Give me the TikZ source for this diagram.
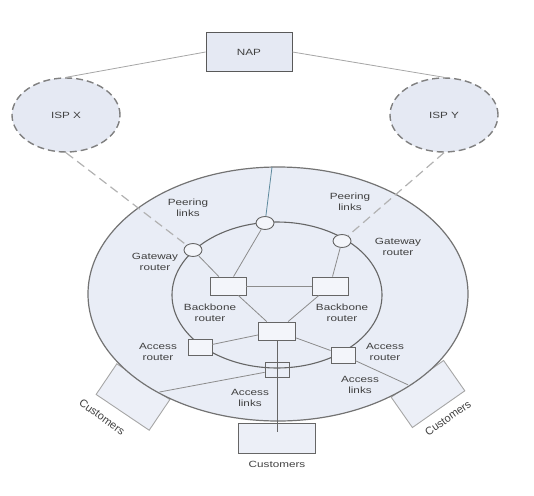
\documentclass[tikz,border=0pt]{standalone}
\usepackage{fontspec}
\setmainfont{Liberation Sans}
\usetikzlibrary{shapes.geometric}
\definecolor{bgfill}{HTML}{E9EDF6}
\definecolor{ispfill}{HTML}{E5E9F3}
\definecolor{boxfill}{HTML}{F3F5FA}
\definecolor{custfill}{HTML}{ECEFF7}
\definecolor{teal}{HTML}{5E8A9E}
\begin{document}
\begin{tikzpicture}[x=1pt,y=-1pt,
  lbl/.style={font=\fontsize{9}{10.5}\selectfont, text=black!75, align=center, inner sep=0pt},
  rlbl/.style={font=\fontsize{11}{12}\selectfont, text=black!75, inner sep=0pt},
  wide/.style={xscale=1.3},
  box/.style={draw=black!60, fill=boxfill, line width=0.9pt, inner sep=0pt},
  gwnode/.style={ellipse, draw=black!60, fill=boxfill, line width=0.9pt, minimum width=18pt, minimum height=13pt, inner sep=0pt},
  isp/.style={ellipse, draw=black!50, fill=ispfill, line width=1.4pt, dash pattern=on 7pt off 4pt, minimum width=108pt, minimum height=74pt, inner sep=0pt},
  link/.style={draw=black!45, line width=0.8pt},
  dlink/.style={draw=black!30, line width=1.2pt, dash pattern=on 9pt off 5pt},
  cust/.style={draw=black!35, fill=custfill, line width=0.9pt, minimum width=64pt, minimum height=37pt, inner sep=0pt}
]
\useasboundingbox (0,0) rectangle (534,495);

% customers boxes (behind the outer area)
\node[cust, rotate=-34] (custl) at (133,397) {};
\node[cust, rotate=35] (custr) at (428,394) {};

% outer area and ring
\node[ellipse, draw=black!55, fill=bgfill, line width=1.2pt, minimum width=380pt, minimum height=254pt, inner sep=0pt] (outer) at (278,294) {};
\node[ellipse, draw=black!60, line width=1.1pt, minimum width=210pt, minimum height=146pt, inner sep=0pt] (ring) at (277,295) {};

\node[box, draw=black!60, fill=custfill, minimum width=77pt, minimum height=30pt] (custb) at (277,438) {};

% NAP and ISPs
\node[box, draw=black!65, fill=ispfill, minimum width=86pt, minimum height=39pt] (nap) at (249,52) {};
\node[isp] (ispx) at (66,115) {};
\node[isp] (ispy) at (444,115) {};

% routers
\node[gwnode] (gwt) at (265,223) {};
\node[gwnode] (gwl) at (193,250) {};
\node[gwnode] (gwr) at (342,241) {};
\node[box, minimum width=36pt, minimum height=18pt] (bbl) at (228,286) {};
\node[box, minimum width=36pt, minimum height=18pt] (bbr) at (330,286) {};
\node[box, minimum width=37pt, minimum height=18pt] (ctr) at (277,331) {};
\node[box, minimum width=24pt, minimum height=16pt] (arl) at (200,347) {};
\node[box, minimum width=24pt, minimum height=16pt] (arr) at (343,355) {};
\node[box, minimum width=24pt, minimum height=15pt, fill=none] (arb) at (277,370) {};

\coordinate (ptop) at (272,167);
\coordinate (cbin) at (277,432);

% connectors
\draw[link, draw=black!35] (nap.west) -- (ispx.north);
\draw[link, draw=black!35] (nap.east) -- (ispy.north);
\draw[dlink] (ispx.south) -- (gwl);
\draw[dlink] (ispy.south) -- (gwr);
\draw[link, draw=teal] (ptop) -- (gwt);
\draw[link] (gwt) -- (bbl);
\draw[link] (gwl) -- (bbl);
\draw[link] (gwr) -- (bbr);
\draw[link] (bbl) -- (bbr);
\draw[link] (bbl) -- (ctr);
\draw[link] (bbr) -- (ctr);
\draw[link] (ctr) -- (arl);
\draw[link] (ctr) -- (arr);
\draw[link] (arr) -- (custr);
\draw[link] (arb) -- (custl);
\draw[link, draw=black!60] (ctr.south) -- (cbin);

% labels
\node[lbl, wide] (tnap) at (249,52) {NAP};
\node[lbl, wide] (tispx) at (66,115) {ISP X};
\node[lbl, wide] (tispy) at (444,115) {ISP Y};
\node[lbl, wide] (tpl) at (188,208) {Peering\\links};
\node[lbl, wide] (tpr) at (350,202) {Peering\\links};
\node[lbl, wide] (tgl) at (155,262) {Gateway\\router};
\node[lbl, wide] (tgr) at (398,247) {Gateway\\router};
\node[lbl, wide] (tbl) at (210,313) {Backbone\\router};
\node[lbl, wide] (tbr) at (342,313) {Backbone\\router};
\node[lbl, wide] (tal) at (158,352) {Access\\router};
\node[lbl, wide] (tar) at (385,352) {Access\\router};
\node[lbl, wide] (tlb) at (250,398) {Access\\links};
\node[lbl, wide] (tlr) at (360,385) {Access\\links};
\node[lbl, wide] (tcb) at (277,464) {Customers};
\node[rlbl, rotate=-36] (tcl) at (102,417) {Customers};
\node[rlbl, rotate=35] (tcr) at (448,418) {Customers};
\end{tikzpicture}
\end{document}
